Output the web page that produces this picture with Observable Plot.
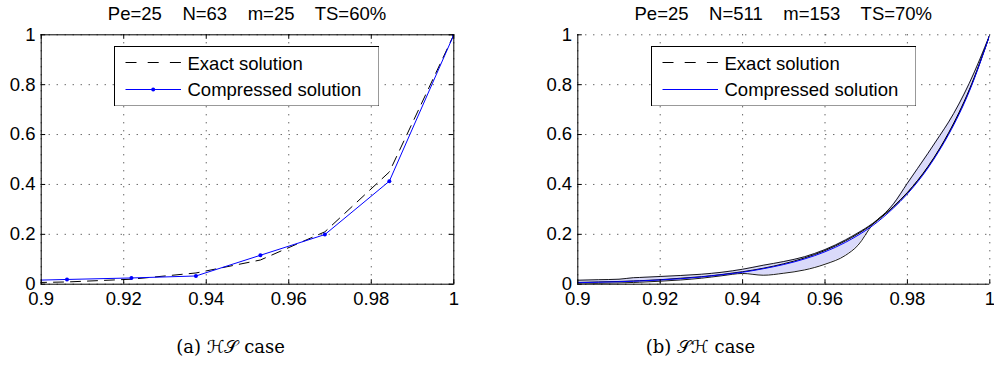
<!DOCTYPE html>
<html>
<head>
<meta charset="utf-8">
<script src="https://cdn.jsdelivr.net/npm/d3@7"></script>
<script src="https://cdn.jsdelivr.net/npm/@observablehq/plot@0.6"></script>
<style>
  body { margin: 0; background: #fff; }
  #wrap { position: relative; width: 994px; height: 367px; overflow: hidden; background: #fff; }
  .panel { position: absolute; top: 0; }
  .panel svg { overflow: visible; }
  .title { position: absolute; top: 5px; font-family: "Liberation Sans", Arial, Helvetica, sans-serif; font-size: 18.5px; line-height: 18.5px; white-space: pre; transform: translateX(-50%); color: #000; }
  .caption { position: absolute; top: 338px; font-family: "DejaVu Serif", "Liberation Serif", serif; font-size: 18px; line-height: 18px; white-space: pre; transform: translateX(-50%); color: #000; }
  .legend { position: absolute; }
</style>
</head>
<body>
<div id="wrap"></div>
<script>
// ---------- data ----------
const xTicks = [0.9, 0.92, 0.94, 0.96, 0.98, 1];
const xTickLabels = ["0.9", "0.92", "0.94", "0.96", "0.98", "1"];
const yTicks = [0, 0.2, 0.4, 0.6, 0.8, 1];
const yTickLabels = ["0", "0.2", "0.4", "0.6", "0.8", "1"];

const titles = ["Pe=25    N=63    m=25    TS=60%", "Pe=25    N=511    m=153    TS=70%"];
const captionPrefix = ["(a) ", "(b) "];
const captionScript = ["ℋ𝒮", "𝒮ℋ"];
const captionSuffix = [" case", " case"];
const legendLabels = ["Exact solution", "Compressed solution"];

// (a) HS case: grid points
const xL = [0.890625, 0.90625, 0.921875, 0.9375, 0.953125, 0.96875, 0.984375, 1];
const exactL = [0.004, 0.009, 0.020, 0.045, 0.097, 0.210, 0.450, 1.0];
const compL = [0.013, 0.019, 0.025, 0.033, 0.116, 0.199, 0.413, 1.0];

// (b) SH case: values
const xR = [0.900, 0.905, 0.910, 0.9135, 0.915, 0.920, 0.925, 0.930, 0.935, 0.940, 0.945, 0.950,
            0.955, 0.960, 0.965, 0.968, 0.9715, 0.9766, 0.980, 0.985, 0.9879, 0.990, 0.995, 1.000];
const exactR = [0.007, 0.009, 0.011, 0.013, 0.014, 0.018, 0.024, 0.030, 0.039, 0.050, 0.064, 0.082,
                0.105, 0.135, 0.174, 0.202, 0.240, 0.311, 0.368, 0.472, 0.546, 0.607, 0.779, 1.0];
const compR = [0.006, 0.008, 0.010, 0.012, 0.013, 0.017, 0.022, 0.029, 0.038, 0.048, 0.062, 0.079,
               0.101, 0.130, 0.168, 0.196, 0.234, 0.305, 0.362, 0.466, 0.540, 0.600, 0.772, 1.0];
const upperR = [0.016, 0.018, 0.020, 0.026, 0.027, 0.031, 0.035, 0.040, 0.048, 0.060, 0.076, 0.091,
                0.110, 0.139, 0.178, 0.206, 0.243, 0.322, 0.405, 0.525, 0.597, 0.650, 0.805, 1.0];
const lowerR = [0.001, 0.003, 0.005, 0.007, 0.008, 0.012, 0.017, 0.024, 0.034, 0.043, 0.036, 0.044,
                0.057, 0.080, 0.116, 0.156, 0.238, 0.309, 0.366, 0.470, 0.544, 0.604, 0.776, 1.0];

// ---------- layout ----------
const W = 497, H = 310, MT = 34.3, MB = 26.3, TICK = 4.5;
const FONT = '"Liberation Sans", Arial, Helvetica, sans-serif';
const BLUE = "#0000ff";

function makePanel(ml, mr, box, dataMarks) {
  const fw = W - ml - mr, fh = H - MT - MB;
  const grid = {stroke: "#000", strokeOpacity: 0.85, strokeWidth: 1, strokeDasharray: "1,7"};
  const fx = d => xTickLabels[xTicks.indexOf(d)];
  const fy = d => yTickLabels[yTicks.indexOf(d)];
  const marks = [
    Plot.gridX(xTicks, grid),
    Plot.gridY(yTicks, grid),
    ...dataMarks,
    Plot.tickX(xTicks, {x: d => d, insetTop: fh - TICK, stroke: "#000"}),
    Plot.tickY(yTicks, {y: d => d, insetRight: fw - TICK, stroke: "#000"})
  ];
  if (box) {
    marks.push(
      Plot.tickX(xTicks, {x: d => d, insetBottom: fh - TICK, stroke: "#000"}),
      Plot.tickY(yTicks, {y: d => d, insetLeft: fw - TICK, stroke: "#000"}),
      Plot.frame({stroke: "#000", strokeWidth: 1})
    );
  } else {
    marks.push(
      Plot.ruleX([xTicks[0]], {stroke: "#000", strokeWidth: 1}),
      Plot.ruleY([yTicks[0]], {stroke: "#000", strokeWidth: 1})
    );
  }
  marks.push(
    Plot.axisX(xTicks, {tickSize: 0, tickPadding: 7.5, tickFormat: fx, label: null, fill: "#000"}),
    Plot.axisY(yTicks, {tickSize: 0, tickPadding: 5.7, tickFormat: fy, label: null, fill: "#000"})
  );
  return Plot.plot({
    width: W, height: H,
    marginLeft: ml, marginRight: mr, marginTop: MT, marginBottom: MB,
    x: {domain: [xTicks[0], xTicks[xTicks.length - 1]], axis: null, label: null},
    y: {domain: [yTicks[0], yTicks[yTicks.length - 1]], axis: null, label: null},
    style: {fontFamily: FONT, fontSize: "18.5px", color: "#000", background: "transparent", overflow: "visible"},
    marks
  });
}

const dataL = xL.map((x, i) => ({x, exact: exactL[i], comp: compL[i]}));
const dataR = xR.map((x, i) => ({x, exact: exactR[i], comp: compR[i], upper: upperR[i], lower: lowerR[i]}));

const left = makePanel(40.7, 43.7, true, [
  Plot.line(dataL, {x: "x", y: "exact", stroke: "#000", strokeWidth: 1, strokeDasharray: "10,7", clip: true}),
  Plot.line(dataL, {x: "x", y: "comp", stroke: BLUE, strokeWidth: 1, clip: true}),
  Plot.dot(dataL, {x: "x", y: "comp", r: 2, fill: BLUE, stroke: null, clip: true})
]);

const C = "monotone-x";
const right = makePanel(80.3, 4.7, false, [
  Plot.areaY(dataR, {x: "x", y1: "lower", y2: "upper", fill: "#dadafa", curve: C, clip: true}),
  Plot.line(dataR, {x: "x", y: "upper", stroke: "#000", strokeWidth: 0.9, curve: C, clip: true}),
  Plot.line(dataR, {x: "x", y: "lower", stroke: "#000", strokeWidth: 0.9, curve: C, clip: true}),
  Plot.line(dataR, {x: "x", y: "exact", stroke: "#000", strokeWidth: 1, curve: C, clip: true}),
  Plot.line(dataR, {x: "x", y: "comp", stroke: BLUE, strokeWidth: 1, curve: C, clip: true})
]);

const wrap = document.getElementById("wrap");
[[left, 0], [right, 497]].forEach(([svg, x]) => {
  const d = document.createElement("div");
  d.className = "panel";
  d.style.left = x + "px";
  d.appendChild(svg);
  wrap.appendChild(d);
});

// titles
[[titles[0], 247], [titles[1], 783.3]].forEach(([t, cx]) => {
  const d = document.createElement("div");
  d.className = "title";
  d.style.left = cx + "px";
  d.textContent = t;
  wrap.appendChild(d);
});

// captions
[230.5, 700.5].forEach((cx, i) => {
  const d = document.createElement("div");
  d.className = "caption";
  d.style.left = cx + "px";
  d.append(captionPrefix[i]);
  const s = document.createElement("span");
  s.style.fontFamily = '"DejaVu Sans", "DejaVu Serif", serif';
  s.textContent = captionScript[i];
  d.appendChild(s);
  d.append(captionSuffix[i]);
  wrap.appendChild(d);
});

// legends
function legend(x, withDot) {
  const w = 265.6, h = 60.6;
  const svg = d3.create("svg").attr("class", "legend").attr("width", w).attr("height", h)
    .style("left", x + "px").style("top", "45.7px");
  svg.append("rect").attr("x", 0.5).attr("y", 0.5).attr("width", w - 1).attr("height", h - 1)
    .attr("fill", "#fff").attr("stroke", "#000").attr("stroke-width", 1);
  svg.append("line").attr("x1", 11.5).attr("x2", 67).attr("y1", 16.5).attr("y2", 16.5)
    .attr("stroke", "#000").attr("stroke-width", 1).attr("stroke-dasharray", "11,11.2");
  svg.append("line").attr("x1", 11.5).attr("x2", 67).attr("y1", 43.5).attr("y2", 43.5)
    .attr("stroke", BLUE).attr("stroke-width", 1);
  if (withDot) svg.append("circle").attr("cx", 39.2).attr("cy", 43.5).attr("r", 2).attr("fill", BLUE);
  [23.6, 50.4].forEach((yb, i) => {
    svg.append("text").attr("x", 73.5).attr("y", yb).attr("font-family", FONT)
      .attr("font-size", "18.5px").attr("fill", "#000").text(legendLabels[i]);
  });
  wrap.appendChild(svg.node());
}
legend(113.7, true);
legend(650.7, false);
</script>
</body>
</html>
